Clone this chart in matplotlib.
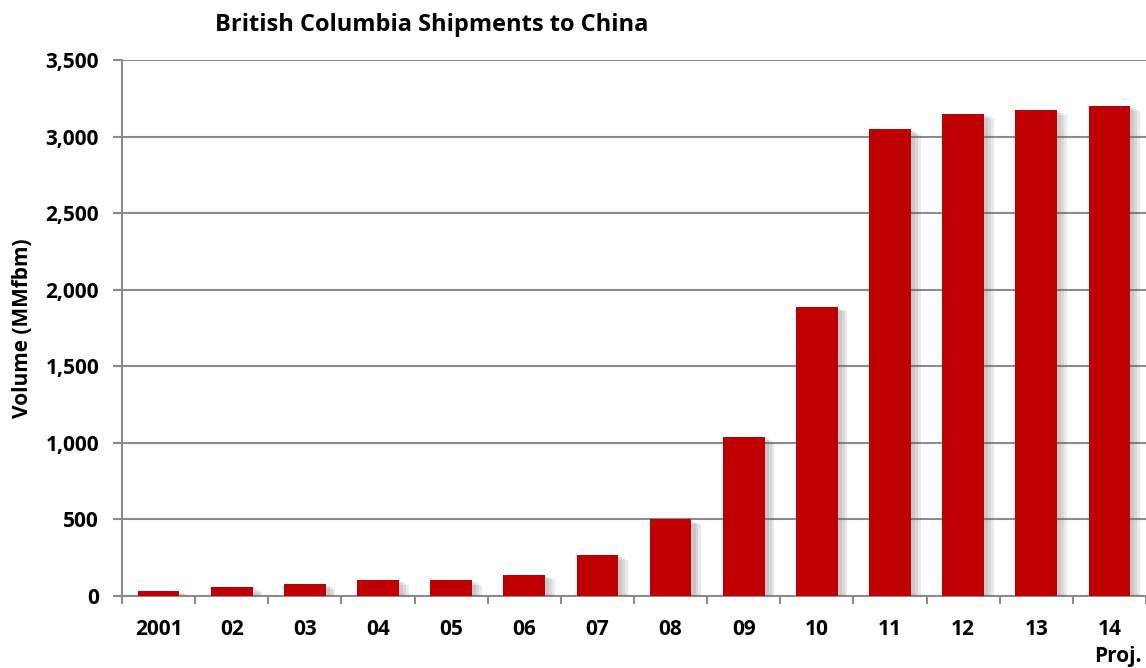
import matplotlib.pyplot as plt
import matplotlib.patheffects as pe
import numpy as np
from matplotlib.ticker import FuncFormatter

# data
years = ["2001", "02", "03", "04", "05", "06", "07", "08", "09", "10", "11", "12", "13", "14"]
volume = [35, 60, 80, 105, 105, 140, 270, 500, 1040, 1890, 3050, 3150, 3175, 3200]

plt.rcParams['font.family'] = ['Open Sans', 'DejaVu Sans']
plt.rcParams['font.weight'] = 'bold'

W, H = 1146, 668
fig = plt.figure(figsize=(W / 100, H / 100), dpi=100)
ax = fig.add_axes([122 / W, (H - 596) / H, 1024 / W, 536 / H])

x = np.arange(len(years))
bars = ax.bar(x, volume, width=0.57, color='#C00000', zorder=3)
# soft drop shadow to the right of each bar
shadow = [pe.SimplePatchShadow(offset=(d, -d / 2), shadow_rgbFace='#606060', alpha=0.13)
          for d in (7, 5, 3)]
for b in bars:
    b.set_path_effects(shadow + [pe.Normal()])

ax.set_ylim(0, 3500)
ax.set_yticks(np.arange(0, 3501, 500))
ax.yaxis.set_major_formatter(FuncFormatter(lambda v, p: f"{int(v):,}"))
ax.set_xlim(-0.5, 13.34)
ax.set_xticks(x)
ax.set_xticklabels(years)
ax.set_xticks(np.arange(-0.5, 14, 1), minor=True)

ax.grid(axis='y', color='#8c8c8c', linewidth=1.5, zorder=0)
for s in ['top', 'right']:
    ax.spines[s].set_visible(False)
for s in ['left', 'bottom']:
    ax.spines[s].set_color('#8c8c8c')
    ax.spines[s].set_linewidth(1.5)

ax.tick_params(axis='y', length=6.5, width=1.5, color='#8c8c8c', labelsize=15, pad=10)
ax.tick_params(axis='x', which='major', length=0, labelsize=15, pad=16.5)
ax.tick_params(axis='x', which='minor', length=6, width=1.5, color='#8c8c8c')
for lbl in ax.get_xticklabels() + ax.get_yticklabels():
    lbl.set_fontweight('bold')

ax.set_ylabel("Volume (MMfbm)", fontsize=15, fontweight='bold')
ax.yaxis.set_label_coords(-0.087, 0.5)

fig.text(215 / W, 1 - 31 / H, "British Columbia Shipments to China",
         fontsize=17, fontweight='bold', ha='left', va='baseline')
fig.text(1142 / W, 1 - 662 / H, "Proj.", fontsize=15, fontweight='bold',
         ha='right', va='baseline')

fig.savefig("out.png", dpi=100)
